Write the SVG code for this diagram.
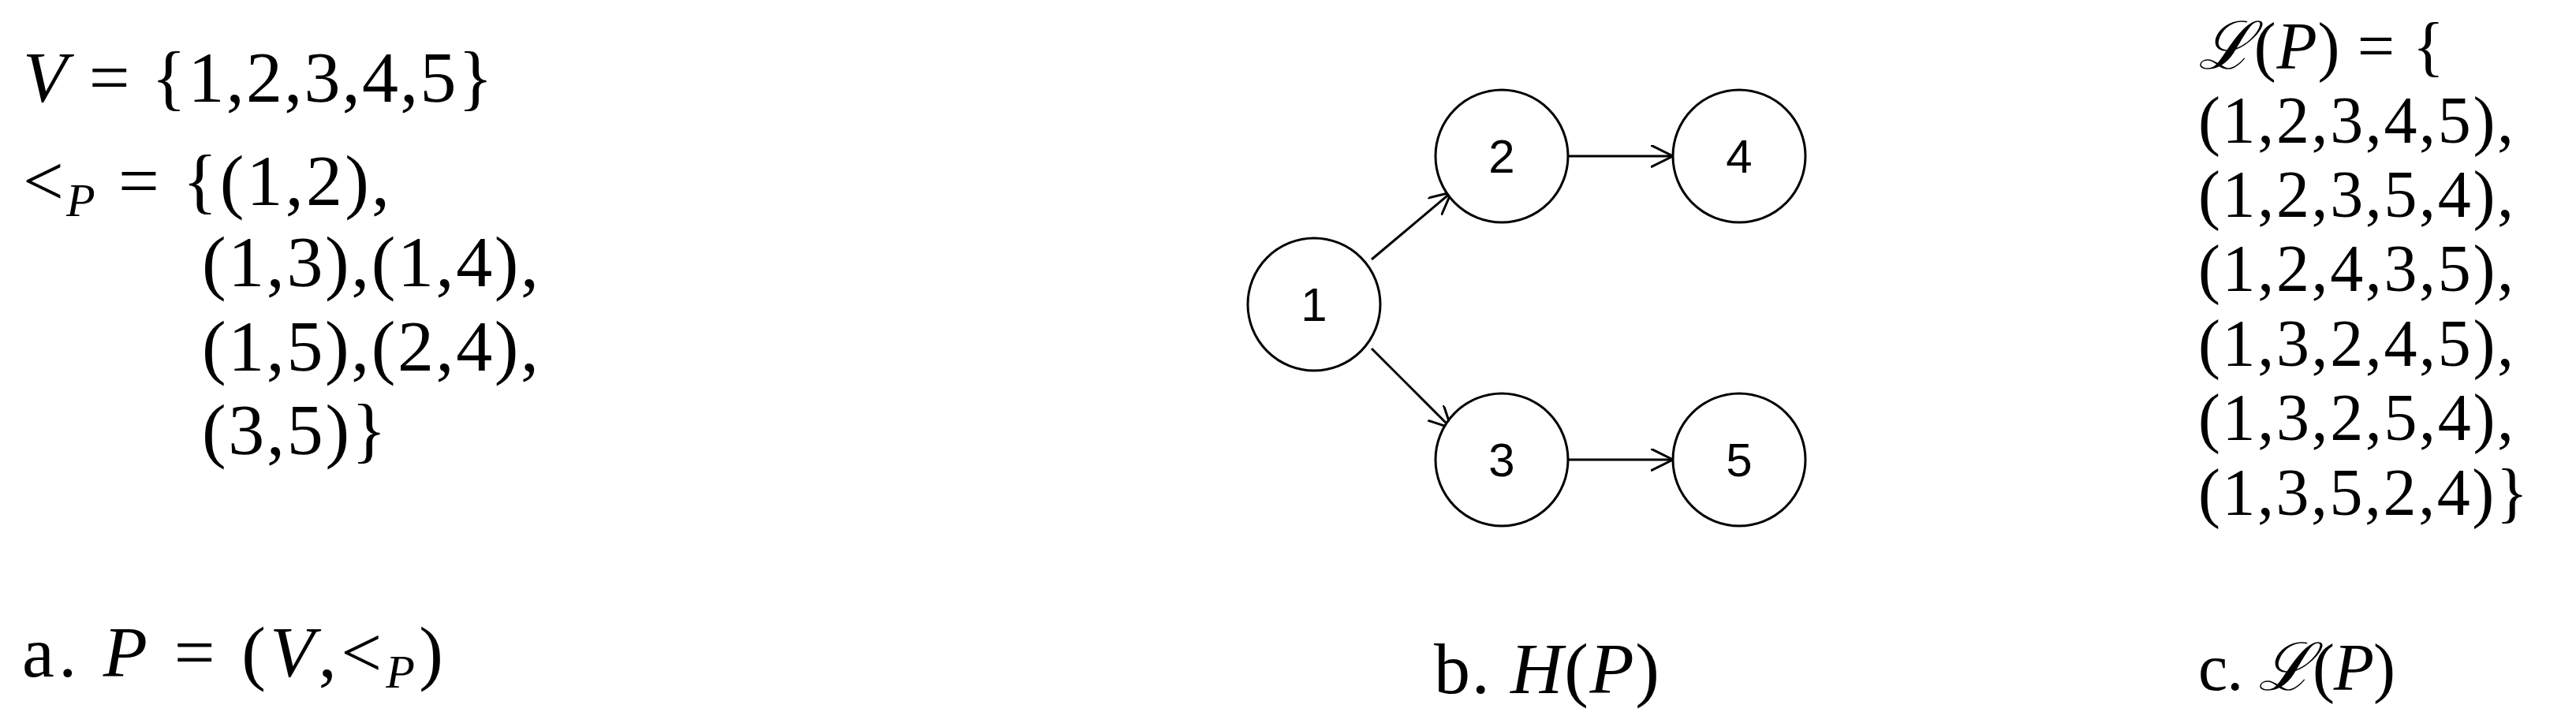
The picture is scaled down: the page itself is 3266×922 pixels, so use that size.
<svg xmlns="http://www.w3.org/2000/svg" width="3266" height="922" viewBox="0 0 3266 922">
<style>
.m{font-family:"Liberation Serif","DejaVu Serif",serif;font-size:92px;fill:#000}
.r{font-size:84px}
.i{font-style:italic}
.s{font-size:60px;font-style:italic}
.n{font-family:"Liberation Sans",Arial,sans-serif;font-size:60px;text-anchor:middle;fill:#000}
.nd{fill:#fff;stroke:#000;stroke-width:3}
.e{stroke:#000;stroke-width:3;fill:none;marker-end:url(#a)}
</style>
<defs>
<marker id="a" markerUnits="userSpaceOnUse" markerWidth="40" markerHeight="40" refX="28" refY="14" orient="auto" viewBox="0 0 40 40">
<path d="M0,0 L28,14 L0,28" fill="none" stroke="#000" stroke-width="3"/>
</marker>
</defs>
<g id="textA">
<text class="m" x="29" y="129" textLength="596" lengthAdjust="spacing"><tspan class="i">V</tspan> = {1,2,3,4,5}</text>
<text class="m" x="29" y="260" textLength="465" lengthAdjust="spacing">&lt;<tspan class="s" dy="14">P</tspan><tspan dy="-14"> = {(1,2),</tspan></text>
<text class="m" x="256" y="363" textLength="427" lengthAdjust="spacing">(1,3),(1,4),</text>
<text class="m" x="256" y="470" textLength="427" lengthAdjust="spacing">(1,5),(2,4),</text>
<text class="m" x="256" y="576" textLength="234" lengthAdjust="spacing">(3,5)}</text>
<text class="m" x="28" y="858" textLength="534" lengthAdjust="spacing">a. <tspan class="i">P</tspan> = (<tspan class="i">V</tspan>,&lt;<tspan class="s" dy="14">P</tspan><tspan dy="-14">)</tspan></text>
</g>
<g id="connectors">
<line class="e" x1="1739" y1="329" x2="1840" y2="244"/>
<line class="e" x1="1739" y1="442" x2="1840" y2="543"/>
<line class="e" x1="1988" y1="198" x2="2121" y2="198"/>
<line class="e" x1="1988" y1="583" x2="2121" y2="583"/>
</g>
<g id="n1"><circle class="nd" cx="1666" cy="386" r="84"/><text class="n" x="1666" y="407">1</text></g>
<g id="n2"><circle class="nd" cx="1904" cy="198" r="84"/><text class="n" x="1904" y="219">2</text></g>
<g id="n3"><circle class="nd" cx="1904" cy="583" r="84"/><text class="n" x="1904" y="604">3</text></g>
<g id="n4"><circle class="nd" cx="2205" cy="198" r="84"/><text class="n" x="2205" y="219">4</text></g>
<g id="n5"><circle class="nd" cx="2205" cy="583" r="84"/><text class="n" x="2205" y="604">5</text></g>
<g id="textB">
<text class="m" x="1818" y="879" textLength="286" lengthAdjust="spacing">b. <tspan class="i">H</tspan>(<tspan class="i">P</tspan>)</text>
</g>
<g id="textC">
<text class="m r" x="2787" y="87" textLength="312" lengthAdjust="spacing"><tspan class="i">ℒ</tspan>(<tspan class="i">P</tspan>) = {</text>
<text class="m r" x="2787" y="181" textLength="400" lengthAdjust="spacing">(1,2,3,4,5),</text>
<text class="m r" x="2787" y="275" textLength="400" lengthAdjust="spacing">(1,2,3,5,4),</text>
<text class="m r" x="2787" y="369" textLength="400" lengthAdjust="spacing">(1,2,4,3,5),</text>
<text class="m r" x="2787" y="464" textLength="400" lengthAdjust="spacing">(1,3,2,4,5),</text>
<text class="m r" x="2787" y="558" textLength="400" lengthAdjust="spacing">(1,3,2,5,4),</text>
<text class="m r" x="2787" y="653" textLength="418" lengthAdjust="spacing">(1,3,5,2,4)}</text>
<text class="m r" x="2787" y="875" textLength="250" lengthAdjust="spacing">c. <tspan class="i">ℒ</tspan>(<tspan class="i">P</tspan>)</text>
</g>
</svg>
